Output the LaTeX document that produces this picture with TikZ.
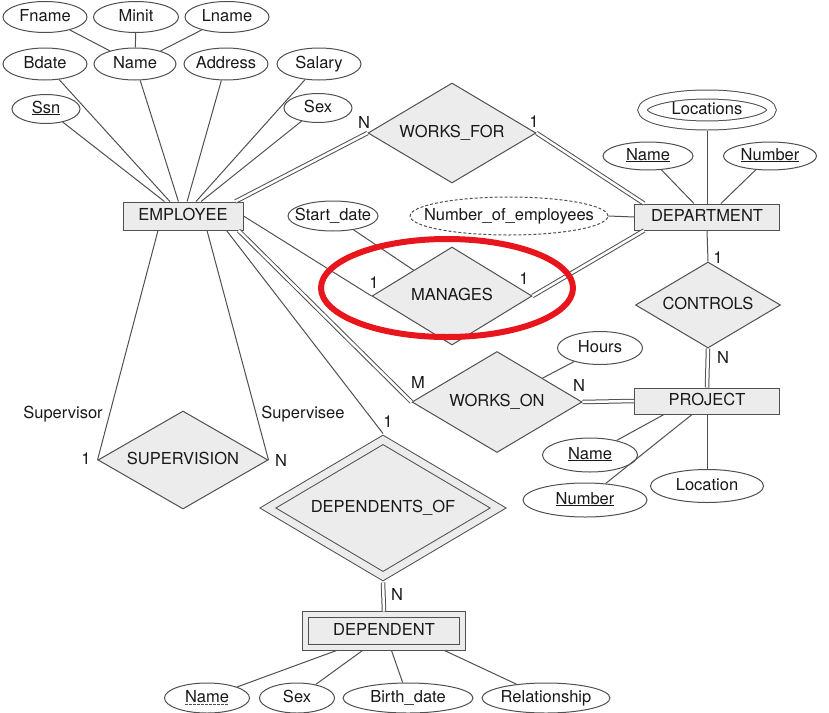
\documentclass[tikz,border=0pt]{standalone}
\usepackage{fontspec}
\setmainfont{TeX Gyre Heros}
\usetikzlibrary{shapes.geometric}

\definecolor{edgegray}{RGB}{80,80,80}
\definecolor{boxgray}{RGB}{236,236,236}
\definecolor{textgray}{RGB}{25,25,25}
\definecolor{markred}{RGB}{232,22,28}

\tikzset{
    every node/.style={font=\fontsize{16.5}{19}\selectfont, text=textgray},
    entity/.style={rectangle, draw=edgegray, fill=boxgray, line width=1pt, inner sep=0pt, text height=11.5pt, text depth=3.5pt},
    relation/.style={diamond, aspect=2, draw=edgegray, fill=boxgray, line width=1pt, inner sep=0pt, text height=11.5pt, text depth=3.5pt},
    attrib/.style={ellipse, draw=edgegray, fill=white, line width=1pt, inner xsep=-15pt, inner ysep=0pt, text height=11.5pt, text depth=3.5pt},
    link/.style={draw=edgegray, line width=1pt},
    total/.style={link, double, double distance=2.5pt},
    card/.style={inner sep=0pt},
}

\begin{document}
\begin{tikzpicture}[x=1pt, y=-1pt]
    \useasboundingbox (0,0) rectangle (829,712);

    \node[entity, minimum width=120pt, minimum height=28pt] (emp) at (183,216) {EMPLOYEE};
    \node[entity, minimum width=145pt, minimum height=26pt] (dept) at (707,217) {DEPARTMENT};
    \node[entity, minimum width=145pt, minimum height=26pt] (proj) at (707,401) {PROJECT};
    \node[entity, double=boxgray, double distance=4.5pt, outer sep=3pt, minimum width=157pt, minimum height=33pt] (dep) at (384,631) {DEPENDENT};

    \node[relation, minimum width=168pt, minimum height=100pt] (wf) at (452,133) {WORKS\_FOR};
    \node[relation, minimum width=160pt, minimum height=98pt] (mg) at (452,296) {MANAGES};
    \node[relation, minimum width=145pt, minimum height=86pt] (ctrl) at (708,305) {CONTROLS};
    \node[relation, minimum width=170pt, minimum height=101pt] (wo) at (497,402) {WORKS\_ON};
    \node[relation, minimum width=170pt, minimum height=98pt] (sup) at (183,460) {SUPERVISION};
    \node[relation, double=boxgray, double distance=7pt, outer sep=4.5pt, minimum width=234pt, minimum height=140pt] (dof) at (383,508) {DEPENDENTS\_OF};

    \node[attrib, minimum width=84pt, minimum height=31pt] (fname) at (45,17) {Fname};
    \node[attrib, minimum width=85pt, minimum height=31pt] (minit) at (136,17) {Minit};
    \node[attrib, minimum width=84pt, minimum height=31pt] (lname) at (227,17) {Lname};
    \node[attrib, minimum width=84pt, minimum height=32pt] (bdate) at (45,64) {Bdate};
    \node[attrib, minimum width=82pt, minimum height=32pt] (ename) at (135,64) {Name};
    \node[attrib, minimum width=84pt, minimum height=32pt] (addr) at (226,64) {Address};
    \node[attrib, minimum width=84pt, minimum height=32pt] (salary) at (319,64) {Salary};
    \node[attrib, minimum width=68pt, minimum height=29pt] (ssn) at (46,109) {\underline{Ssn}};
    \node[attrib, minimum width=68pt, minimum height=29pt] (esex) at (318,108) {Sex};
    \node[attrib, minimum width=90pt, minimum height=30pt] (start) at (333,216) {Start\_date};
    \node[attrib, dashed, dash pattern=on 3pt off 2pt, minimum width=196pt, minimum height=38pt] (noe) at (509,216) {Number\_of\_employees};
    \node[attrib, double=white, double distance=8pt, outer sep=5pt, minimum width=129pt, minimum height=31pt] (locs) at (707,110) {Locations};
    \node[attrib, minimum width=90pt, minimum height=28pt] (dname) at (648,156) {\underline{Name}};
    \node[attrib, minimum width=93pt, minimum height=28pt] (dnum) at (770,156) {\underline{Number}};
    \node[attrib, minimum width=85pt, minimum height=33pt] (hours) at (600,348) {Hours};
    \node[attrib, minimum width=95pt, minimum height=34pt] (pname) at (590,455) {\underline{Name}};
    \node[attrib, minimum width=124pt, minimum height=34pt] (pnum) at (585,500) {\underline{Number}};
    \node[attrib, minimum width=113pt, minimum height=33pt] (ploc) at (707,486) {Location};
    \node[attrib, minimum width=85pt, minimum height=30pt] (kname) at (207,698) {Name};
    \node[attrib, minimum width=75pt, minimum height=30pt] (ksex) at (297,698) {Sex};
    \node[attrib, minimum width=130pt, minimum height=30pt] (birth) at (408,698) {Birth\_date};
    \node[attrib, minimum width=128pt, minimum height=30pt] (rel) at (546,698) {Relationship};
    \draw[edgegray, line width=0.7pt, dash pattern=on 2.5pt off 1.5pt] ([xshift=-22pt, yshift=-2.2pt]kname.base) -- ([xshift=22pt, yshift=-2.2pt]kname.base);

    \draw[link] (fname) -- (ename);
    \draw[link] (minit) -- (ename);
    \draw[link] (lname) -- (ename);
    \draw[link] (bdate) -- (emp);
    \draw[link] (ename) -- (emp);
    \draw[link] (addr) -- (emp);
    \draw[link] (salary) -- (emp);
    \draw[link] (ssn) -- (emp);
    \draw[link] (esex) -- (emp);

    \draw[total] ([xshift=-8pt]emp.north east) -- (wf.west);
    \draw[total] (wf.east) -- ([xshift=10pt]dept.north west);
    \draw[link] (emp.east) -- (mg.west);
    \draw[total] (mg.east) -- ([xshift=10pt]dept.south west);
    \draw[link] (start) -- (mg);
    \draw[link] (noe.east) -- (dept.west);
    \draw[link] (locs) -- (dept);
    \draw[link] (dname) -- (dept);
    \draw[link] (dnum) -- (dept);
    \draw[link] (dept.south) -- (ctrl.north);
    \draw[total] (ctrl.south) -- (proj.north);
    \draw[total] ([xshift=-5pt]emp.south east) -- (wo.west);
    \draw[total] (wo.east) -- (proj.west);
    \draw[link] (hours) -- (wo);
    \draw[link] (pname) -- ([xshift=30pt]proj.south west);
    \draw[link] (pnum) -- ([xshift=58pt]proj.south west);
    \draw[link] (proj) -- (ploc);
    \draw[link] ([xshift=-25pt]emp.south) -- (sup.west);
    \draw[link] ([xshift=24pt]emp.south) -- (sup.east);
    \draw[link] ([xshift=-17pt]emp.south east) -- (dof.north);
    \draw[total] (dof.south) -- (dep.north);
    \draw[link] (kname) -- ([xshift=34pt]dep.south west);
    \draw[link] (ksex) -- ([xshift=60pt]dep.south west);
    \draw[link] (birth) -- ([xshift=89pt]dep.south west);
    \draw[link] (rel) -- ([xshift=142pt]dep.south west);

    \node[card] (cwfN) at (364,122) {N};
    \node[card] (cwf1) at (534,122) {1};
    \node[card] (cmgA) at (374,283) {1};
    \node[card] (cmgB) at (524,279) {1};
    \node[card] (cct1) at (718,258) {1};
    \node[card] (cctN) at (723,357) {N};
    \node[card] (cwoM) at (418,382) {M};
    \node[card] (cwoN) at (579,385) {N};
    \node[card] (rsupr) at (63,414) {Supervisor};
    \node[card] (rsupe) at (303,414) {Supervisee};
    \node[card] (csup1) at (86,459) {1};
    \node[card] (csupN) at (281,460) {N};
    \node[card] (cdof1) at (388,422) {1};
    \node[card] (cdofN) at (397,594) {N};

    \draw[markred, line width=6pt] (447,288) ellipse [x radius=126pt, y radius=49pt];
\end{tikzpicture}
\end{document}
